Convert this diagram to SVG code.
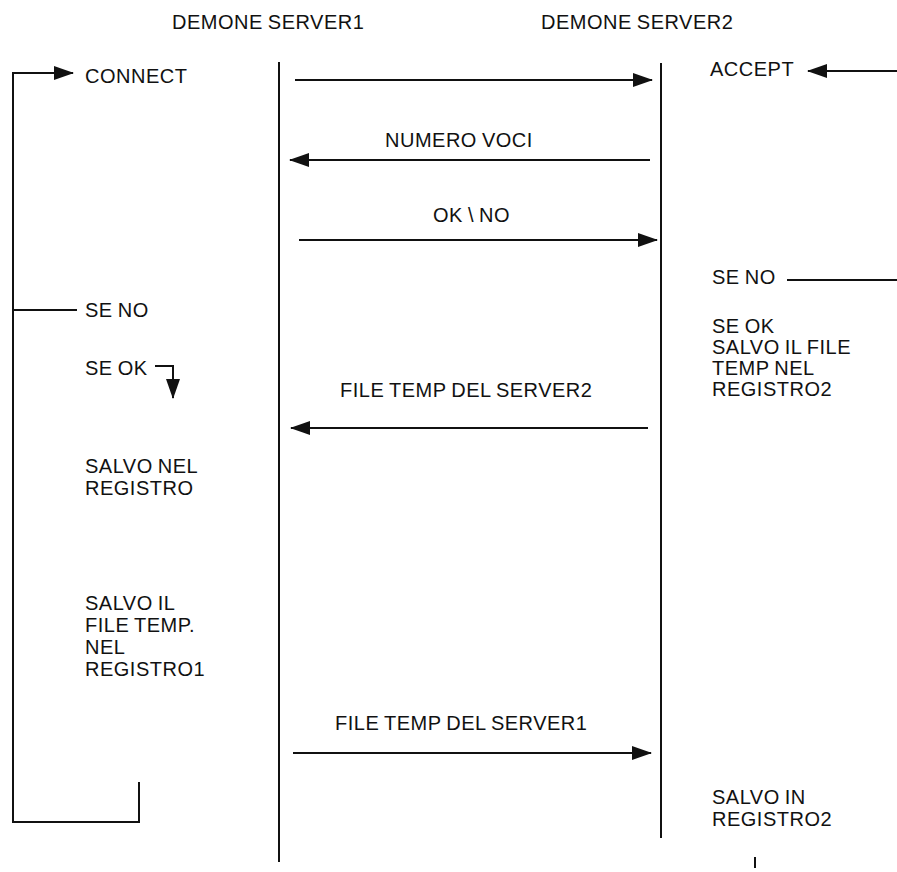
<svg xmlns="http://www.w3.org/2000/svg" width="897" height="872" viewBox="0 0 897 872">
<style>
text{font-family:"Liberation Sans",Arial,sans-serif;font-size:20px;letter-spacing:0.5px;word-spacing:-1px;fill:#111}
.ln{stroke:#111;stroke-width:2;fill:none}
</style>
<defs>
<marker id="ah" viewBox="0 0 20 16" refX="19" refY="8" markerWidth="20" markerHeight="16" markerUnits="userSpaceOnUse" orient="auto">
<path d="M0,1 L20,8 L0,15 Z" fill="#111"/>
</marker>
</defs>
<rect width="897" height="872" fill="#fff"/>
<g id="header1"><text x="172" y="29">DEMONE SERVER1</text></g>
<g id="header2"><text x="541" y="29">DEMONE SERVER2</text></g>
<g id="lifelines">
<line class="ln" x1="279" y1="62" x2="279" y2="862"/>
<line class="ln" x1="661" y1="63" x2="661" y2="838"/>
<line class="ln" x1="755" y1="857" x2="755" y2="868"/>
</g>
<g id="connectors">
<path class="ln" d="M139,782 V822 H13 V73 H73" marker-end="url(#ah)"/>
<line class="ln" x1="13" y1="310" x2="77" y2="310"/>
<path class="ln" d="M155,366 H173 V398" marker-end="url(#ah)"/>
<line class="ln" x1="295" y1="80" x2="652" y2="80" marker-end="url(#ah)"/>
<line class="ln" x1="650" y1="160" x2="290" y2="160" marker-end="url(#ah)"/>
<line class="ln" x1="299" y1="240" x2="657" y2="240" marker-end="url(#ah)"/>
<line class="ln" x1="648" y1="428" x2="291" y2="428" marker-end="url(#ah)"/>
<line class="ln" x1="293" y1="753" x2="651" y2="753" marker-end="url(#ah)"/>
<line class="ln" x1="897" y1="71" x2="808" y2="71" marker-end="url(#ah)"/>
<line class="ln" x1="787" y1="280" x2="897" y2="280"/>
</g>
<g id="left-notes">
<text x="85" y="83">CONNECT</text>
<text x="85" y="317">SE NO</text>
<text x="85" y="375">SE OK</text>
<text x="85" y="473">SALVO NEL</text>
<text x="85" y="495">REGISTRO</text>
<text x="85" y="610">SALVO IL</text>
<text x="85" y="632">FILE TEMP.</text>
<text x="85" y="654">NEL</text>
<text x="85" y="676">REGISTRO1</text>
</g>
<g id="messages">
<text x="385" y="147">NUMERO VOCI</text>
<text x="433" y="222">OK \ NO</text>
<text x="340" y="397">FILE TEMP DEL SERVER2</text>
<text x="335" y="730">FILE TEMP DEL SERVER1</text>
</g>
<g id="right-notes">
<text x="710" y="76">ACCEPT</text>
<text x="712" y="284">SE NO</text>
<text x="712" y="333">SE OK</text>
<text x="712" y="354">SALVO IL FILE</text>
<text x="712" y="375">TEMP NEL</text>
<text x="712" y="396">REGISTRO2</text>
<text x="712" y="804">SALVO IN</text>
<text x="712" y="826">REGISTRO2</text>
</g>
</svg>
